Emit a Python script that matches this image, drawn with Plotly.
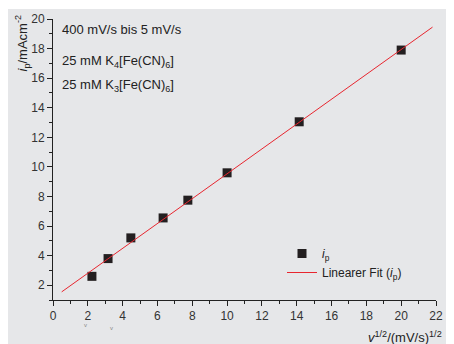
import plotly.graph_objects as go

# Data
sqrt_scan_rate = [2.236, 3.162, 4.472, 6.325, 7.746, 10.0, 14.142, 20.0]
peak_current = [2.6, 3.8, 5.2, 6.55, 7.75, 9.6, 13.05, 17.9]
fit_x = [0.5, 21.8]
fit_y = [1.55, 19.45]

FONT = "Liberation Sans, Arial, sans-serif"
TXT = "#333333"

OFF = 8          # default page body margin
W, H = 454 - OFF, 344 - OFF
L, R, T, B = 53, 436, 19, 300   # plot area in page pixels
PW, PH = R - L, B - T


def px(x):
    return (x - L) / PW


def py(y):
    return (B - y) / PH


fig = go.Figure()
fig.add_trace(go.Scatter(
    x=sqrt_scan_rate, y=peak_current, mode="markers",
    marker=dict(symbol="square", size=9, color="#231f20",
                line=dict(width=0)),
    name="<i>i</i><sub>p</sub>",
))
fig.add_trace(go.Scatter(
    x=fit_x, y=fit_y, mode="lines",
    line=dict(color="#e8262f", width=1),
    name="Linearer Fit (<i>i</i><sub>p</sub>)",
))

axis_common = dict(
    showgrid=False, zeroline=False, showline=True, linecolor="#222222",
    linewidth=1, ticks="outside", ticklen=5, tickwidth=1, tickcolor="#222222",
    tickfont=dict(family=FONT, size=12, color=TXT),
    minor=dict(ticks="outside", ticklen=3, tickwidth=1, tickcolor="#222222", dtick=1),
)

fig.update_layout(
    width=W, height=H,
    margin=dict(l=L - OFF, r=454 - R, t=T - OFF, b=344 - B, autoexpand=False),
    paper_bgcolor="white",
    plot_bgcolor="rgba(0,0,0,0)",
    font=dict(family=FONT, size=12, color=TXT),
    xaxis=dict(range=[0, 22], dtick=2, tick0=0, **axis_common),
    yaxis=dict(range=[1, 20], dtick=2, tick0=0, **axis_common),
    legend=dict(x=px(282), y=py(239),
                xanchor="left", yanchor="top", bgcolor="rgba(0,0,0,0)",
                font=dict(family=FONT, size=12, color="#222222"),
                tracegroupgap=0, itemwidth=30),
    showlegend=True,
)

# gray background panel
fig.add_shape(type="rect", xref="paper", yref="paper", layer="below",
              x0=px(7), x1=px(460), y0=py(350), y1=py(9),
              fillcolor="#e6e7e9", line=dict(width=0))

annos = [
    dict(text="400 mV/s bis 5 mV/s", x=60, y=29),
    dict(text="25 mM K<sub>4</sub>[Fe(CN)<sub>6</sub>]", x=60, y=62),
    dict(text="25 mM K<sub>3</sub>[Fe(CN)<sub>6</sub>]", x=60, y=85),
]
for a in annos:
    fig.add_annotation(text=a["text"], xref="paper", yref="paper",
                       x=px(a["x"]), y=py(a["y"]),
                       xanchor="left", yanchor="middle", showarrow=False,
                       font=dict(family=FONT, size=13, color="#222222"))

fig.add_annotation(text="<i>i</i><sub>p</sub>/mAcm<sup>-2</sup>", textangle=-90,
                   xref="paper", yref="paper", x=px(22), y=py(13),
                   xanchor="center", yanchor="top", showarrow=False,
                   font=dict(family=FONT, size=13, color="#222222"))
fig.add_annotation(text="<i>v</i><sup>1/2</sup>/(mV/s)<sup>1/2</sup>",
                   xref="paper", yref="paper", x=px(444), y=py(337),
                   xanchor="right", yanchor="middle", showarrow=False,
                   font=dict(family=FONT, size=13, color="#222222"))
for vx, vy in [(82, 330), (108, 333)]:
    fig.add_annotation(text="v", xref="paper", yref="paper",
                       x=px(vx), y=py(vy), showarrow=False,
                       font=dict(family=FONT, size=6, color="#888888"))

fig.write_html("out.html")
